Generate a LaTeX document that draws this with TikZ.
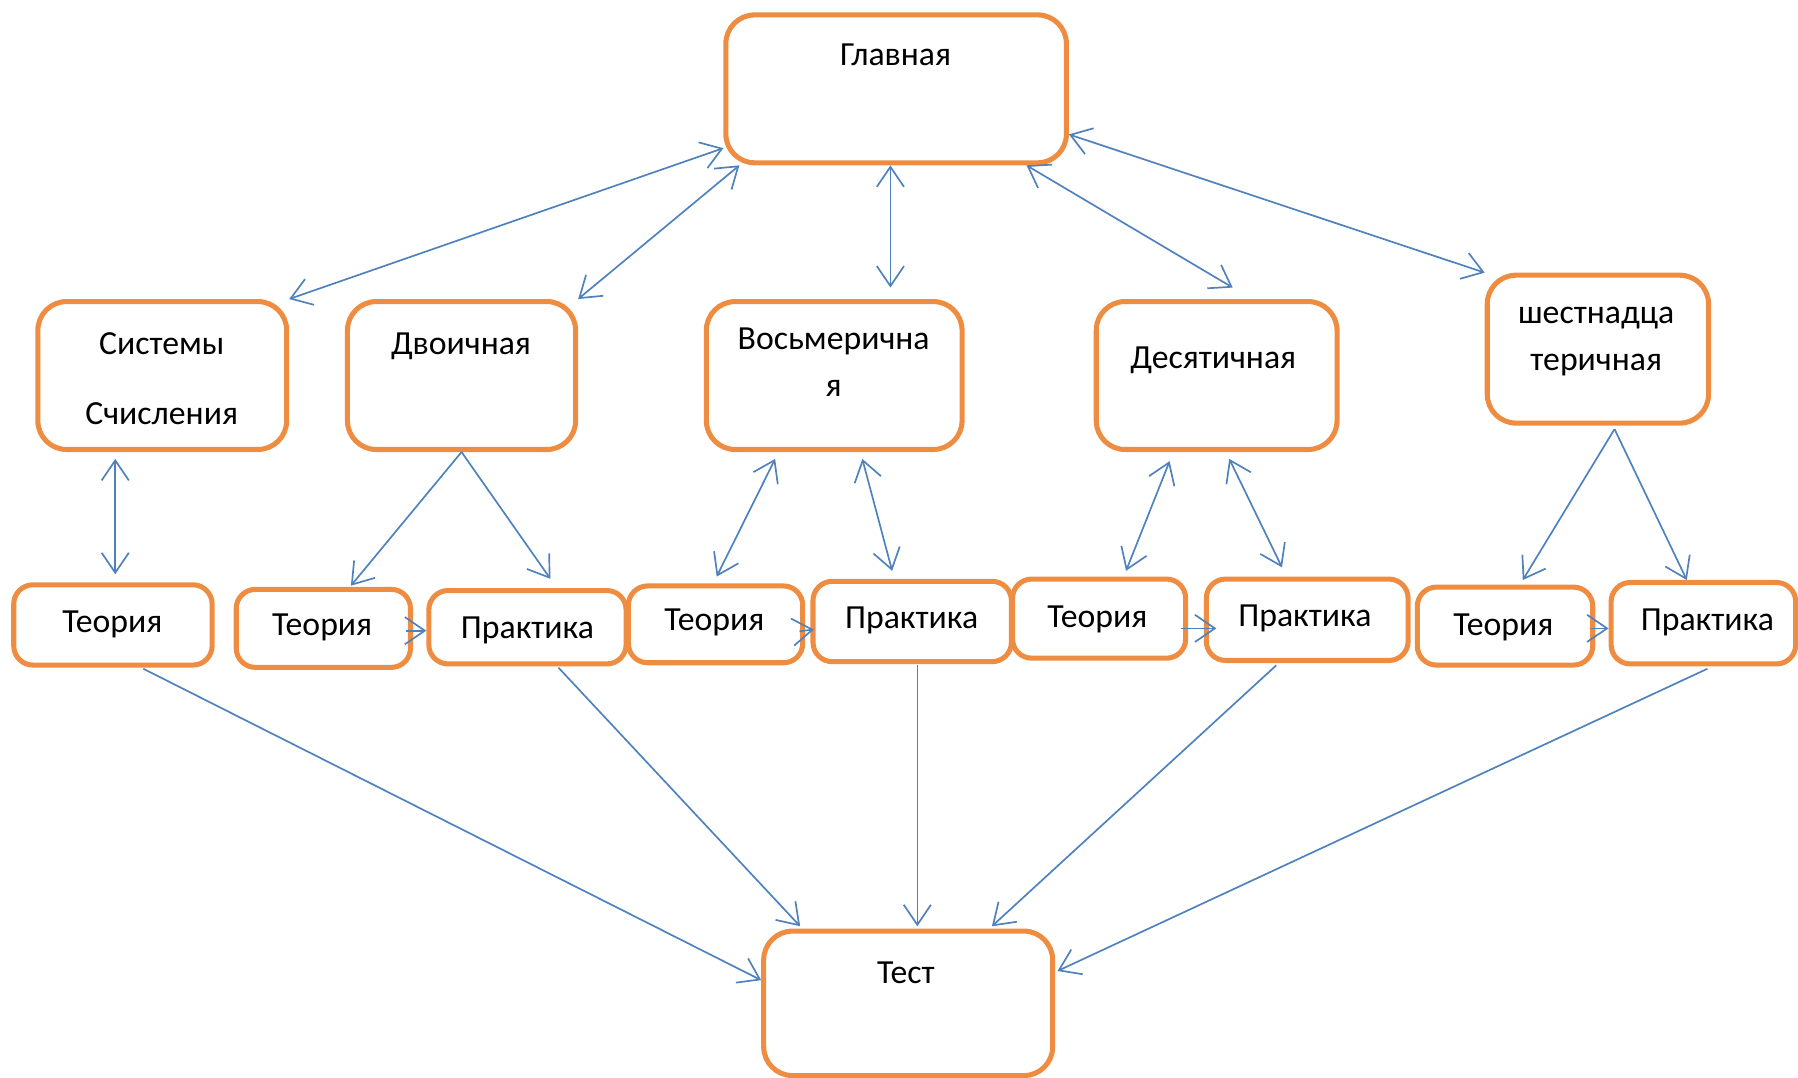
\documentclass[tikz,border=0pt]{standalone}
\usepackage{fontspec}
\setmainfont{Carlito}
\usetikzlibrary{arrows.meta,calc,fit}

\definecolor{boxorange}{RGB}{238,141,66}
\definecolor{linkblue}{RGB}{79,129,189}

\tikzset{
  box/.style={draw=boxorange, line width=1.8pt, rounded corners=3.6mm, inner sep=0pt},
  smallbox/.style={box, rounded corners=2.4mm},
  txt/.style={font=\fontsize{12}{16.7}\selectfont, inner sep=0pt, anchor=base, align=center},
  link/.style={draw=linkblue, line width=0.6pt, -{Straight Barb[length=2.5mm,width=3.4mm]}},
  twoway/.style={link, {Straight Barb[length=2.5mm,width=3.4mm]}-{Straight Barb[length=2.5mm,width=3.4mm]}}
}

\begin{document}
\begin{tikzpicture}[x=0.14334mm, y=-0.14334mm]
\useasboundingbox (0,0) rectangle (1568,940);

% top level
\node[box, fit={(633,13) (930,142)}] (glav) {};
\node[txt] (glavt) at (781,57) {Главная};

% number systems (two-line labels sit on their last line)
\node[box, fit={(33,263) (250,392)}] (sys) {};
\node[txt, font=\fontsize{12}{24.8}\selectfont] (syst) at (141,370) {Системы\\Счисления};
\node[box, fit={(303,263) (502,392)}] (dv) {};
\node[txt] (dvt) at (402,309) {Двоичная};
\node[box, fit={(616,263) (839,392)}] (vs) {};
\node[txt] (vst) at (727,346) {Восьмерична\\я};
\node[box, fit={(956,263) (1166,392)}] (dc) {};
\node[txt] (dct) at (1058,321) {Десятичная};
\node[box, fit={(1297,240) (1490,369)}] (hx) {};
\node[txt] (hxt) at (1392,323) {шестнадца\\теричная};

% theory and practice
\node[smallbox, fit={(12,510) (185,580)}] (t1) {};
\node[txt] (t1t) at (98,552) {Теория};
\node[smallbox, fit={(206,514) (358,582)}] (t2) {};
\node[txt] (t2t) at (281,554) {Теория};
\node[smallbox, fit={(374,515) (546,579)}] (p2) {};
\node[txt] (p2t) at (460,557) {Практика};
\node[smallbox, fit={(548,511) (700,578)}] (t3) {};
\node[txt] (t3t) at (623,550) {Теория};
\node[smallbox, fit={(709,507) (882,577)}] (p3) {};
\node[txt] (p3t) at (795,548) {Практика};
\node[smallbox, fit={(883,505) (1034,574)}] (t4) {};
\node[txt] (t4t) at (957,547) {Теория};
\node[smallbox, fit={(1052,505) (1228,576)}] (p4) {};
\node[txt] (p4t) at (1138,546) {Практика};
\node[smallbox, fit={(1236,512) (1389,580)}] (t5) {};
\node[txt] (t5t) at (1311,554) {Теория};
\node[smallbox, fit={(1405,508) (1566,579)}] (p5) {};
\node[txt] (p5t) at (1489,550) {Практика};

% test
\node[box, fit={(666,812) (918,938)}] (ts) {};
\node[txt] (tst) at (790,858) {Тест};

% links from the top
\draw[twoway] ($(glav.south west)+(0,-15)$) -- (sys.north east);
\draw[twoway] ($(glav.south west)+(14,0)$) -- (dv.north east);
\draw[twoway] ($(glav.south)+(-5,0)$) -- ($(vs.north)+(49,-10)$);
\draw[twoway] ($(glav.south east)+(-37,0)$) -- ($(dc.north)+(14,-10)$);
\draw[twoway] ($(glav.south east)+(0,-27)$) -- (hx.north west);

% links down to theory and practice
\draw[twoway] ($(sys.south)+(-41,6)$) -- ($(t1.north)+(2,-7)$);
\draw[link] (dv.south) -- ($(t2.north)+(24,-1)$);
\draw[link] (dv.south) -- ($(p2.north)+(20,-8)$);
\draw[twoway] ($(vs.south)+(-51.5,6)$) -- ($(t3.north)+(1,-6)$);
\draw[twoway] ($(vs.south)+(24.5,6)$) -- ($(p3.north)+(-17.5,-7)$);
\draw[twoway] ($(dc.south)+(-41,8)$) -- ($(t4.north)+(23.5,-5)$);
\draw[twoway] ($(dc.south)+(11,6)$) -- ($(p4.north)+(-22,-8)$);
\draw[link] ($(hx.south)+(14.5,3)$) -- ($(t5.north)+(15.5,-4)$);
\draw[link] ($(hx.south)+(14.5,3)$) -- ($(p5.north)+(-14.5,0)$);

% theory to practice
\draw[link] ($(t2.east)+(-6,2)$) -- ($(p2.west)+(0,3)$);
\draw[link] ($(t3.east)+(-5,6)$) -- ($(p3.west)+(3,7)$);
\draw[link] ($(t4.east)+(-6,8.5)$) -- ($(p4.west)+(11,7.5)$);
\draw[link] ($(t5.east)+(-4,2)$) -- ($(p5.west)+(0,4.5)$);

% links to the test
\draw[link] ($(t1.south)+(26.5,1)$) -- ($(ts.north west)+(0,45)$);
\draw[link] ($(p2.south)+(27,1)$) -- ($(ts.north west)+(34,-2)$);
\draw[link] ($(p3.south)+(4.5,1)$) -- ($(ts.north)+(8,-2)$);
\draw[link] ($(p4.south)+(-27,2)$) -- ($(ts.north)+(73,-2)$);
\draw[link] ($(p5.south)+(3.5,2)$) -- ($(ts.north east)+(2,37)$);
\end{tikzpicture}
\end{document}
